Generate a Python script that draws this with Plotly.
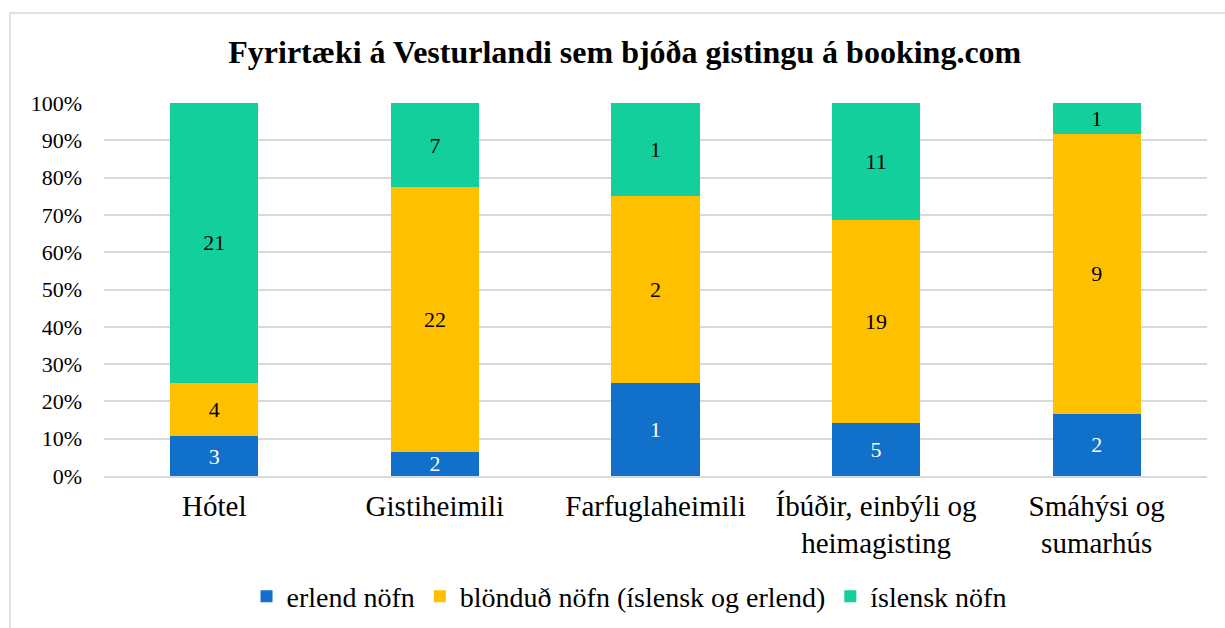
import plotly.graph_objects as go

categories = [
    "Hótel",
    "Gistiheimili",
    "Farfuglaheimili",
    "Íbúðir, einbýli og<br>heimagisting",
    "Smáhýsi og<br>sumarhús",
]
erlend = [3, 2, 1, 5, 2]
blondud = [4, 22, 2, 19, 9]
islensk = [21, 7, 1, 11, 1]

series = [
    ("erlend nöfn", erlend, "#1170C9", "white"),
    ("blönduð nöfn (íslensk og erlend)", blondud, "#FFC000", "black"),
    ("íslensk nöfn", islensk, "#12CF9C", "black"),
]

FONT = "Liberation Serif, Times New Roman, serif"
GRID = "#d9d9d9"

fig = go.Figure()
for name, values, color, text_color in series:
    fig.add_trace(
        go.Bar(
            x=categories,
            y=values,
            name=name,
            marker_color=color,
            marker_line_width=0,
            text=[str(v) for v in values],
            textposition="inside",
            insidetextanchor="middle",
            textangle=0,
            textfont={"color": text_color, "size": 22, "family": FONT},
            hoverinfo="skip",
        )
    )

fig.update_layout(
    barmode="stack",
    barnorm="percent",
    bargap=0.6,
    width=1225,
    height=628,
    paper_bgcolor="white",
    plot_bgcolor="white",
    font={"family": FONT, "size": 22, "color": "black"},
    title={
        "text": "<b>Fyrirtæki á Vesturlandi sem bjóða gistingu á booking.com</b>",
        "x": 0.51,
        "xanchor": "center",
        "y": 0.917,
        "yanchor": "middle",
        "font": {"size": 32, "family": FONT, "color": "black"},
    },
    margin={"l": 104, "r": 18, "t": 103, "b": 152, "autoexpand": False},
    uniformtext={"mode": "show", "minsize": 22},
    legend={
        "orientation": "h",
        "x": 0.476,
        "xanchor": "center",
        "yref": "container",
        "y": 0.05,
        "yanchor": "middle",
        "font": {"size": 28, "family": FONT},
        "itemwidth": 30,
        "traceorder": "normal",
    },
    showlegend=True,
)
fig.update_yaxes(
    range=[0, 100],
    tickvals=[0, 10, 20, 30, 40, 50, 60, 70, 80, 90, 100],
    ticktext=[f"{v}%" for v in range(0, 101, 10)],
    showgrid=True,
    gridcolor=GRID,
    gridwidth=1.5,
    zeroline=False,
    showline=False,
    ticks="",
    ticklabelstandoff=21,
    tickfont={"size": 22, "family": FONT},
    automargin=False,
)
fig.update_xaxes(
    showgrid=False,
    showline=True,
    linecolor=GRID,
    linewidth=1.5,
    ticks="",
    tickfont={"size": 29, "family": FONT},
    ticklabelstandoff=3,
    automargin=False,
)

# outer chart frame (cropped on right and bottom in the source)
fig.add_shape(
    type="path",
    xref="paper",
    yref="paper",
    path="M -0.0852,-0.5 L -0.0852,1.2413 L 1.1,1.2413",
    line={"color": GRID, "width": 1.5},
)

fig.write_html(
    "out.html",
    config={"displayModeBar": False},
    post_script="document.body.style.margin='0';",
)
